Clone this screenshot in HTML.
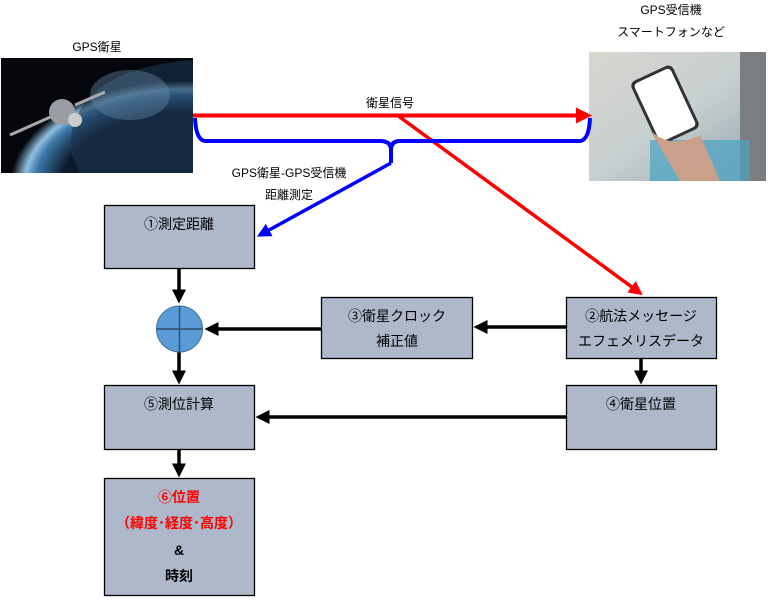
<!DOCTYPE html>
<html><head><meta charset="utf-8"><style>
html,body{margin:0;padding:0;background:#fff;}
svg{display:block;font-family:"Liberation Sans","Noto Sans CJK JP",sans-serif;}
</style></head><body>
<svg width="768" height="600" viewBox="0 0 768 600" xmlns="http://www.w3.org/2000/svg">
<defs>
<radialGradient id="earth" cx="0.95" cy="1.1" r="0.9">
<stop offset="0.7" stop-color="#0d1a2c"/><stop offset="0.86" stop-color="#3b78a8"/><stop offset="0.92" stop-color="#8fc0e0"/><stop offset="1" stop-color="#05070c"/>
</radialGradient>
<linearGradient id="phone" x1="0" y1="0" x2="1" y2="1">
<stop offset="0" stop-color="#d8d6d0"/><stop offset="0.5" stop-color="#c7cfd0"/><stop offset="1" stop-color="#8fa6ad"/>
</linearGradient>
<marker id="ab" markerWidth="4" markerHeight="4" refX="3" refY="2" orient="auto" markerUnits="strokeWidth"><path d="M0,0 L4,2 L0,4 z" fill="#000"/></marker>
<marker id="ar" markerWidth="4" markerHeight="4" refX="3" refY="2" orient="auto" markerUnits="strokeWidth"><path d="M0,0 L4,2 L0,4 z" fill="#f00"/></marker>
<marker id="abl" markerWidth="4" markerHeight="4" refX="3" refY="2" orient="auto" markerUnits="strokeWidth"><path d="M0,0 L4,2 L0,4 z" fill="#00f"/></marker>
</defs>
<rect x="1" y="58" width="192" height="115" fill="#05070c"/>
<rect x="1" y="58" width="192" height="115" fill="url(#earth)"/>
<path d="M70,150 Q70,70 193,60 L193,173 L80,173 Z" fill="#1a3550" opacity="0.6"/>
<ellipse cx="130" cy="95" rx="40" ry="25" fill="#6a8fb0" opacity="0.4"/>
<g stroke="#aaa" stroke-width="3"><line x1="10" y1="135" x2="55" y2="115"/><line x1="75" y1="105" x2="105" y2="92"/></g>
<circle cx="62" cy="112" r="13" fill="#9a9ea4"/><circle cx="75" cy="120" r="7" fill="#ccc"/>
<rect x="589" y="52" width="177" height="129" fill="url(#phone)"/>
<rect x="740" y="52" width="26" height="129" fill="#7a7e80"/>
<rect x="650" y="140" width="100" height="41" fill="#4ba3c5" opacity="0.7"/>
<g transform="rotate(-25 665 105)"><rect x="642" y="70" width="46" height="70" rx="6" fill="#333"/><rect x="645" y="73" width="40" height="64" rx="4" fill="#fff"/></g>
<path d="M650,130 Q670,150 700,135 L720,181 L680,181 Z" fill="#c9a08a"/>
<text x="97" y="51" font-size="12" text-anchor="middle">GPS衛星</text>
<text x="671" y="14" font-size="12" text-anchor="middle">GPS受信機</text>
<text x="671" y="36" font-size="12" text-anchor="middle">スマートフォンなど</text>
<text x="390" y="107" font-size="12" text-anchor="middle">衛星信号</text>
<text x="289" y="177" font-size="12" text-anchor="middle">GPS衛星-GPS受信機</text>
<text x="289" y="199" font-size="12" text-anchor="middle">距離測定</text>
<line x1="193" y1="115.5" x2="588" y2="115.5" stroke="#f00" stroke-width="4" marker-end="url(#ar)"/>
<line x1="397" y1="115" x2="640" y2="293" stroke="#f00" stroke-width="3.5" marker-end="url(#ar)"/>
<path d="M195,118 Q196,140 205,141 L380,141 Q391,141 391,150 L391,163 M391,150 Q391,141 400,141 L580,141 Q589,140 590,118" fill="none" stroke="#00f" stroke-width="4"/>
<line x1="391" y1="163" x2="260" y2="235" stroke="#00f" stroke-width="3.5" marker-end="url(#abl)"/>
<g fill="#adb9ca" stroke="#000" stroke-width="1.3">
<rect x="104.5" y="205.5" width="150" height="63"/>
<rect x="566.5" y="297.5" width="150" height="61"/>
<rect x="321.5" y="297.5" width="151" height="61"/>
<rect x="566.5" y="385.5" width="150" height="64"/>
<rect x="104.5" y="385.5" width="150" height="64"/>
<rect x="104.5" y="478.5" width="150" height="117"/>
</g>
<g font-size="14" text-anchor="middle" fill="#000">
<text x="179" y="229">①測定距離</text>
<text x="641" y="321">②航法メッセージ</text>
<text x="641" y="346">エフェメリスデータ</text>
<text x="397" y="321">③衛星クロック</text>
<text x="397" y="346">補正値</text>
<text x="641" y="409">④衛星位置</text>
<text x="179" y="409">⑤測位計算</text>
<text x="179" y="502" fill="#f00" font-weight="bold">⑥位置</text>
<text x="179" y="528" fill="#f00" font-weight="bold">（緯度･経度･高度）</text>
<text x="179" y="555" font-weight="bold">&amp;</text>
<text x="179" y="581" font-weight="bold">時刻</text>
</g>
<g stroke="#000" stroke-width="3.5">
<line x1="179" y1="269" x2="179" y2="300" marker-end="url(#ab)"/>
<line x1="179" y1="352" x2="179" y2="381" marker-end="url(#ab)"/>
<line x1="179" y1="450" x2="179" y2="474" marker-end="url(#ab)"/>
<line x1="321" y1="329" x2="208" y2="329" marker-end="url(#ab)"/>
<line x1="566" y1="327" x2="477" y2="327" marker-end="url(#ab)"/>
<line x1="641" y1="359" x2="641" y2="381" marker-end="url(#ab)"/>
<line x1="566" y1="417" x2="259" y2="417" marker-end="url(#ab)"/>
</g>
<circle cx="179.5" cy="329" r="23" fill="#5b9bd5" stroke="#41719c" stroke-width="1"/>
<line x1="156.5" y1="329" x2="202.5" y2="329" stroke="#2f5070" stroke-width="1.5"/>
<line x1="179.5" y1="306" x2="179.5" y2="352" stroke="#2f5070" stroke-width="1.5"/>
</svg>
</body></html>
